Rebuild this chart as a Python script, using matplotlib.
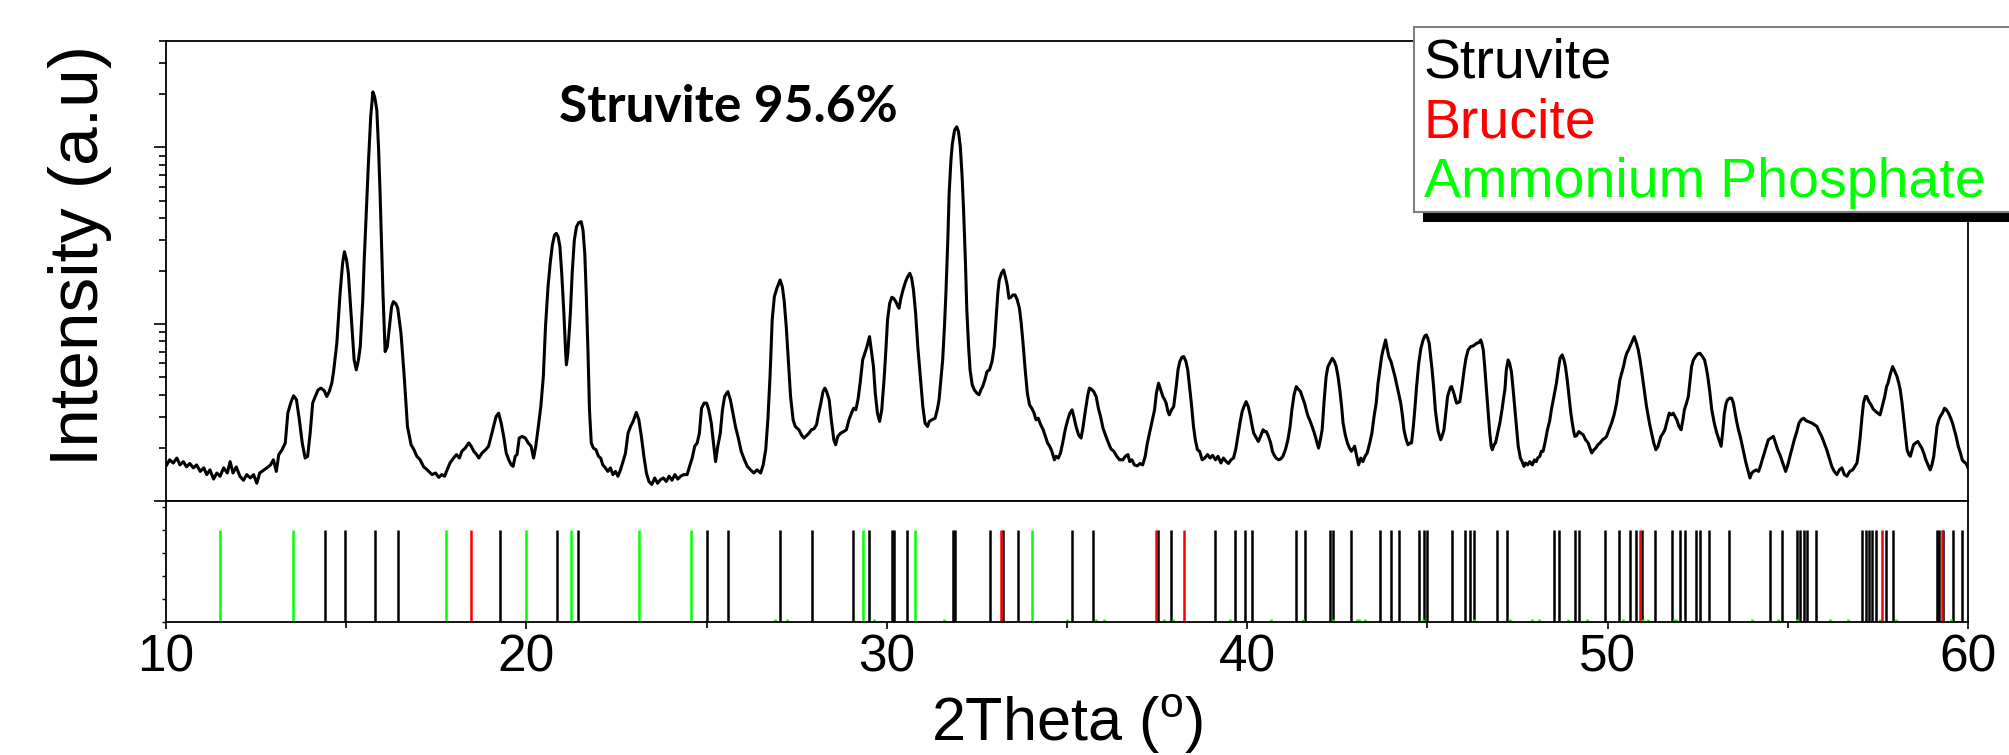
import numpy as np
import matplotlib
matplotlib.use("Agg")
import matplotlib.pyplot as plt
from matplotlib.patches import Rectangle
from matplotlib.ticker import MultipleLocator, NullFormatter

plt.rcParams['font.family'] = ['Liberation Sans', 'DejaVu Sans']

# XRD pattern (2theta in degrees, intensity in counts)
two_theta = [
    10.02, 10.10, 10.20, 10.30, 10.39, 10.48, 10.57, 10.66, 10.76, 10.85, 10.95, 11.05, 11.13, 11.22, 11.32, 11.41,
    11.50, 11.60, 11.70, 11.78, 11.86, 11.95, 12.05, 12.15, 12.24, 12.34, 12.43, 12.52, 12.60, 12.70, 12.80, 12.90,
    12.98, 13.06, 13.13, 13.22, 13.31, 13.38, 13.46, 13.54, 13.62, 13.70, 13.78, 13.86, 13.93, 14.00, 14.07, 14.14,
    14.22, 14.30, 14.39, 14.46, 14.53, 14.60, 14.65, 14.74, 14.83, 14.90, 14.95, 15.01, 15.06, 15.16, 15.22, 15.28,
    15.34, 15.39, 15.46, 15.50, 15.56, 15.62, 15.68, 15.74, 15.79, 15.85, 15.90, 15.94, 15.98, 16.02, 16.08, 16.14,
    16.20, 16.26, 16.31, 16.38, 16.43, 16.52, 16.61, 16.70, 16.80, 16.88, 16.96, 17.05, 17.15, 17.25, 17.38, 17.48,
    17.57, 17.65, 17.73, 17.80, 17.88, 17.98, 18.06, 18.14, 18.21, 18.30, 18.40, 18.47, 18.54, 18.62, 18.68, 18.77,
    18.87, 18.95, 19.02, 19.09, 19.16, 19.23, 19.30, 19.37, 19.44, 19.51, 19.58, 19.63, 19.69, 19.74, 19.80, 19.88,
    19.97, 20.05, 20.13, 20.20, 20.26, 20.32, 20.40, 20.47, 20.53, 20.60, 20.66, 20.72, 20.78, 20.83, 20.88, 20.93,
    20.98, 21.04, 21.09, 21.11, 21.15, 21.22, 21.27, 21.33, 21.39, 21.45, 21.52, 21.57, 21.62, 21.66, 21.71, 21.75,
    21.80, 21.86, 21.93, 22.00, 22.06, 22.12, 22.19, 22.26, 22.33, 22.40, 22.47, 22.54, 22.61, 22.68, 22.75, 22.82,
    22.89, 22.96, 23.05, 23.12, 23.19, 23.26, 23.33, 23.40, 23.48, 23.56, 23.64, 23.72, 23.80, 23.88, 23.96, 24.04,
    24.12, 24.20, 24.28, 24.36, 24.46, 24.54, 24.60, 24.67, 24.74, 24.80, 24.86, 24.93, 25.00, 25.06, 25.13, 25.19,
    25.25, 25.31, 25.38, 25.44, 25.50, 25.59, 25.66, 25.73, 25.80, 25.88, 25.96, 26.05, 26.13, 26.22, 26.31, 26.40,
    26.50, 26.57, 26.64, 26.70, 26.76, 26.82, 26.88, 26.95, 27.04, 27.10, 27.15, 27.21, 27.28, 27.33, 27.40, 27.46,
    27.56, 27.63, 27.70, 27.77, 27.84, 27.91, 27.98, 28.05, 28.11, 28.17, 28.23, 28.28, 28.33, 28.40, 28.46, 28.53,
    28.58, 28.64, 28.72, 28.80, 28.88, 28.95, 29.02, 29.08, 29.14, 29.20, 29.26, 29.33, 29.39, 29.45, 29.52, 29.57,
    29.63, 29.68, 29.74, 29.80, 29.86, 29.93, 29.98, 30.02, 30.08, 30.14, 30.19, 30.25, 30.31, 30.34, 30.39, 30.45,
    30.52, 30.58, 30.64, 30.69, 30.74, 30.80, 30.86, 30.93, 31.00, 31.06, 31.13, 31.18, 31.25, 31.34, 31.40, 31.45,
    31.50, 31.55, 31.60, 31.64, 31.69, 31.73, 31.78, 31.82, 31.88, 31.94, 31.99, 32.04, 32.09, 32.13, 32.18, 32.22,
    32.27, 32.31, 32.37, 32.43, 32.50, 32.56, 32.61, 32.66, 32.72, 32.78, 32.85, 32.92, 32.98, 33.03, 33.08, 33.12,
    33.18, 33.24, 33.29, 33.34, 33.39, 33.44, 33.50, 33.56, 33.62, 33.68, 33.73, 33.78, 33.84, 33.90, 33.96, 34.02,
    34.08, 34.14, 34.20, 34.27, 34.34, 34.40, 34.46, 34.52, 34.58, 34.65, 34.70, 34.76, 34.82, 34.88, 34.95, 35.02,
    35.08, 35.14, 35.20, 35.25, 35.32, 35.39, 35.44, 35.50, 35.57, 35.62, 35.67, 35.74, 35.81, 35.87, 35.93, 36.00,
    36.08, 36.15, 36.22, 36.30, 36.38, 36.46, 36.55, 36.62, 36.69, 36.74, 36.80, 36.87, 36.95, 37.03, 37.10, 37.17,
    37.23, 37.29, 37.36, 37.43, 37.48, 37.54, 37.60, 37.66, 37.71, 37.75, 37.80, 37.84, 37.90, 37.96, 38.03, 38.08,
    38.13, 38.19, 38.24, 38.30, 38.35, 38.40, 38.45, 38.51, 38.56, 38.62, 38.68, 38.75, 38.82, 38.90, 38.97, 39.04,
    39.12, 39.19, 39.27, 39.34, 39.42, 39.48, 39.55, 39.62, 39.68, 39.74, 39.80, 39.86, 39.91, 39.97, 40.03, 40.09,
    40.14, 40.18, 40.24, 40.31, 40.37, 40.44, 40.49, 40.53, 40.59, 40.65, 40.70, 40.74, 40.80, 40.87, 40.93, 40.99,
    41.06, 41.13, 41.19, 41.24, 41.30, 41.36, 41.42, 41.48, 41.54, 41.59, 41.65, 41.69, 41.75, 41.80, 41.85, 41.89,
    41.94, 41.98, 42.03, 42.08, 42.13, 42.19, 42.24, 42.29, 42.36, 42.42, 42.47, 42.52, 42.57, 42.62, 42.66, 42.72,
    42.78, 42.84, 42.89, 42.95, 42.98, 43.04, 43.09, 43.15, 43.21, 43.27, 43.33, 43.40, 43.46, 43.52, 43.58, 43.63,
    43.68, 43.73, 43.77, 43.84, 43.89, 43.93, 43.99, 44.05, 44.10, 44.14, 44.20, 44.26, 44.31, 44.35, 44.40, 44.46,
    44.52, 44.56, 44.61, 44.65, 44.70, 44.76, 44.82, 44.88, 44.93, 44.97, 45.01, 45.05, 45.09, 45.13, 45.18, 45.22,
    45.26, 45.30, 45.34, 45.37, 45.42, 45.46, 45.51, 45.56, 45.60, 45.64, 45.67, 45.72, 45.77, 45.81, 45.86, 45.90,
    45.96, 46.02, 46.07, 46.13, 46.20, 46.26, 46.31, 46.37, 46.43, 46.48, 46.51, 46.55, 46.59, 46.64, 46.68, 46.73,
    46.77, 46.80, 46.85, 46.89, 46.95, 47.01, 47.07, 47.12, 47.15, 47.19, 47.24, 47.28, 47.33, 47.38, 47.43, 47.48,
    47.52, 47.58, 47.63, 47.68, 47.72, 47.78, 47.84, 47.91, 47.97, 48.02, 48.06, 48.12, 48.16, 48.21, 48.27, 48.33,
    48.39, 48.44, 48.51, 48.58, 48.63, 48.68, 48.74, 48.79, 48.83, 48.88, 48.93, 48.98, 49.02, 49.06, 49.09, 49.14,
    49.20, 49.26, 49.32, 49.39, 49.46, 49.51, 49.56, 49.62, 49.67, 49.73, 49.79, 49.86, 49.93, 49.97, 50.04, 50.11,
    50.18, 50.25, 50.30, 50.34, 50.39, 50.44, 50.49, 50.53, 50.58, 50.62, 50.68, 50.74, 50.80, 50.85, 50.90, 50.94,
    50.99, 51.04, 51.08, 51.13, 51.17, 51.22, 51.28, 51.34, 51.40, 51.48, 51.54, 51.59, 51.65, 51.71, 51.77, 51.82,
    51.87, 51.92, 51.98, 52.04, 52.09, 52.13, 52.19, 52.24, 52.29, 52.33, 52.38, 52.44, 52.50, 52.56, 52.62, 52.69,
    52.74, 52.78, 52.84, 52.89, 52.96, 53.03, 53.09, 53.15, 53.19, 53.24, 53.29, 53.33, 53.39, 53.44, 53.49, 53.54,
    53.58, 53.63, 53.68, 53.72, 53.78, 53.83, 53.89, 53.95, 54.00, 54.05, 54.12, 54.19, 54.25, 54.32, 54.39, 54.46,
    54.53, 54.60, 54.66, 54.72, 54.78, 54.83, 54.89, 54.94, 55.00, 55.06, 55.12, 55.18, 55.25, 55.31, 55.37, 55.44,
    55.50, 55.56, 55.61, 55.67, 55.74, 55.81, 55.87, 55.94, 56.01, 56.08, 56.15, 56.22, 56.29, 56.36, 56.43, 56.50,
    56.57, 56.64, 56.72, 56.80, 56.86, 56.92, 56.97, 57.01, 57.06, 57.10, 57.15, 57.19, 57.25, 57.31, 57.37, 57.44,
    57.50, 57.56, 57.62, 57.69, 57.74, 57.78, 57.85, 57.91, 57.97, 58.03, 58.08, 58.12, 58.17, 58.21, 58.26, 58.31,
    58.36, 58.40, 58.45, 58.49, 58.55, 58.61, 58.66, 58.72, 58.77, 58.83, 58.89, 58.95, 59.00, 59.05, 59.10, 59.14,
    59.19, 59.23, 59.29, 59.35, 59.40, 59.46, 59.52, 59.57, 59.62, 59.67, 59.73, 59.79, 59.84, 59.88, 59.93, 59.97,
    60.00,
]
intensity = [
    160, 171, 164, 175, 160, 167, 156, 163, 154, 160, 147, 154, 141, 150, 133, 144,
    138, 154, 144, 167, 144, 156, 138, 131, 141, 135, 141, 126, 144, 149, 154, 160,
    171, 147, 183, 195, 213, 314, 358, 394, 374, 288, 213, 175, 179, 242, 358, 390,
    425, 435, 421, 390, 416, 464, 540, 781, 1496, 2210, 2572, 2308, 1941, 970, 628, 552,
    628, 747, 1372, 2308, 4423, 8480, 14890, 20620, 19320, 16240, 9654, 5494, 2868, 1496, 700, 747,
    970, 1258, 1342, 1302, 1231, 889, 506, 264, 208, 195, 179, 171, 156, 150, 141, 144,
    136, 141, 138, 150, 164, 175, 183, 175, 191, 199, 213, 204, 191, 183, 175, 187,
    195, 204, 232, 264, 301, 314, 276, 232, 187, 171, 160, 157, 179, 183, 227, 232,
    227, 213, 204, 175, 204, 253, 342, 506, 970, 1631, 2210, 2805, 3195, 3265, 3127, 2746,
    1941, 1153, 686, 589, 686, 1153, 1941, 2994, 3561, 3752, 3800, 3410, 2517, 1496, 686, 328,
    213, 199, 195, 179, 175, 160, 154, 147, 154, 141, 147, 138, 150, 167, 187, 242,
    264, 282, 317, 288, 232, 179, 144, 129, 124, 135, 126, 132, 135, 129, 138, 131,
    141, 133, 138, 141, 141, 160, 175, 204, 213, 242, 335, 358, 358, 328, 276, 213,
    167, 204, 242, 328, 390, 416, 374, 314, 264, 227, 191, 171, 157, 150, 144, 150,
    144, 160, 195, 288, 506, 1058, 1432, 1597, 1780, 1631, 1372, 970, 576, 390, 288, 264,
    253, 237, 227, 234, 242, 253, 256, 270, 314, 358, 416, 435, 416, 374, 288, 222,
    208, 232, 242, 247, 253, 288, 314, 335, 328, 374, 464, 628, 686, 747, 851, 716,
    576, 407, 314, 282, 328, 506, 747, 1058, 1313, 1420, 1402, 1342, 1258, 1231, 1402, 1562,
    1741, 1858, 1941, 1818, 1562, 1153, 747, 506, 342, 276, 264, 282, 288, 294, 328, 374,
    484, 628, 970, 1496, 2868, 5494, 8480, 10530, 12520, 13080, 12260, 10080, 6827, 4423, 2308, 1204,
    747, 552, 454, 425, 407, 399, 425, 444, 484, 540, 552, 615, 747, 1058, 1496, 1780,
    1941, 2027, 1858, 1667, 1402, 1420, 1464, 1464, 1372, 1231, 1013, 781, 552, 407, 350, 335,
    317, 288, 294, 270, 253, 232, 213, 204, 191, 171, 179, 175, 187, 213, 253, 288,
    314, 328, 294, 264, 237, 227, 258, 314, 390, 435, 430, 416, 390, 335, 301, 258,
    232, 213, 197, 191, 179, 171, 171, 179, 183, 167, 171, 160, 158, 163, 160, 179,
    213, 242, 282, 328, 407, 464, 425, 390, 374, 358, 321, 307, 328, 342, 444, 552,
    615, 651, 656, 615, 552, 444, 358, 264, 222, 195, 191, 171, 175, 183, 175, 181,
    171, 179, 164, 175, 167, 163, 171, 175, 195, 232, 276, 321, 342, 365, 342, 301,
    264, 242, 230, 217, 232, 253, 247, 247, 232, 213, 191, 183, 175, 171, 173, 179,
    195, 222, 264, 328, 399, 444, 429, 416, 382, 358, 321, 301, 282, 264, 247, 232,
    213, 199, 222, 253, 358, 506, 576, 602, 642, 615, 576, 506, 425, 342, 276, 237,
    213, 199, 191, 199, 204, 179, 160, 175, 167, 179, 187, 213, 242, 301, 358, 464,
    552, 656, 716, 815, 716, 656, 615, 552, 506, 464, 407, 358, 301, 253, 227, 208,
    213, 213, 264, 328, 444, 602, 731, 815, 859, 870, 833, 781, 656, 552, 425, 328,
    282, 247, 232, 222, 237, 253, 314, 390, 416, 440, 444, 416, 382, 358, 361, 365,
    444, 552, 642, 716, 747, 752, 764, 781, 787, 815, 781, 716, 576, 425, 328, 242,
    204, 195, 208, 213, 242, 276, 328, 390, 425, 552, 628, 602, 540, 425, 328, 253,
    204, 175, 167, 157, 164, 160, 167, 160, 171, 167, 175, 179, 191, 191, 217, 253,
    282, 328, 390, 464, 552, 642, 671, 628, 576, 484, 390, 314, 276, 247, 232, 234,
    247, 242, 237, 222, 213, 199, 187, 195, 199, 208, 213, 222, 227, 232, 253, 276,
    307, 358, 425, 484, 528, 576, 642, 685, 716, 747, 798, 851, 781, 716, 628, 552,
    464, 390, 342, 301, 270, 242, 213, 195, 204, 232, 242, 253, 282, 314, 307, 314,
    301, 288, 264, 253, 288, 328, 358, 390, 484, 576, 628, 656, 680, 685, 662, 628,
    564, 506, 407, 328, 276, 242, 222, 204, 242, 314, 358, 374, 382, 382, 358, 314,
    282, 253, 232, 213, 187, 167, 150, 135, 144, 147, 150, 147, 160, 179, 199, 222,
    227, 232, 213, 195, 183, 171, 157, 147, 160, 179, 199, 222, 247, 276, 288, 294,
    285, 282, 279, 276, 270, 264, 247, 232, 213, 195, 175, 157, 147, 141, 150, 154,
    141, 138, 147, 150, 157, 164, 195, 232, 301, 358, 390, 390, 365, 350, 331, 321,
    314, 307, 342, 390, 444, 464, 528, 576, 540, 506, 464, 425, 358, 301, 242, 195,
    183, 179, 195, 208, 213, 217, 208, 199, 187, 171, 160, 150, 160, 179, 222, 264,
    288, 301, 314, 335, 328, 314, 294, 276, 253, 232, 204, 187, 171, 167, 164, 160,
    154,
]

# reference stick patterns
struvite_pos = [14.41, 14.97, 15.79, 16.44, 19.27, 20.84, 21.43, 25.00, 25.59, 27.05, 27.92, 29.06, 29.50,
                30.15, 30.21, 30.57, 31.85, 31.88, 32.85, 33.23, 33.63, 35.15, 35.72, 37.53, 37.89, 39.11,
                39.67, 39.95, 40.12, 41.36, 41.60, 42.29, 42.39, 42.89, 43.68, 43.98, 44.21, 44.76, 44.91,
                44.99, 45.68, 46.03, 46.19, 46.28, 46.93, 47.22, 48.50, 48.66, 49.10, 49.20, 49.92, 50.33,
                50.62, 50.79, 50.95, 51.32, 51.79, 52.01, 52.14, 52.45, 52.55, 52.80, 53.36, 54.50, 54.85,
                55.25, 55.34, 55.44, 55.53, 55.78, 57.07, 57.17, 57.25, 57.35, 57.45, 57.72, 57.92, 59.13,
                59.20, 59.32, 59.58, 59.83]
brucite_pos = [18.47, 33.18, 37.47, 38.25, 50.90, 57.61, 59.29]
ammonium_pos = [11.50, 13.51, 17.78, 20.00, 21.23, 23.13, 24.58, 29.33, 30.77, 34.02]
ammonium_weak_pos = [26.89, 27.23, 29.65, 31.60, 35.01, 35.81, 36.02, 37.70, 37.93, 39.52, 40.66, 41.54,
                     42.39, 43.04, 43.11, 43.26, 44.89, 46.30, 47.28, 47.91, 48.09, 48.91, 49.44, 50.42,
                     50.92, 50.97, 51.11, 51.85, 51.90, 54.02, 54.74, 55.26, 56.18, 56.66, 57.56, 58.00, 59.54]
stick_height = 100
weak_height = 3

legend_labels = ['Struvite', 'Brucite', 'Ammonium Phosphate']
legend_colors = ['black', '#ff0000', '#00ff00']

W, H = 2009, 755
fig = plt.figure(figsize=(W / 100, H / 100), dpi=100)

def fx(px):
    return px / W

def fy(py):
    return (H - py) / H

left, right = 166, 1968
ax1 = fig.add_axes([fx(left), fy(501), fx(right - left), (501 - 41) / H])
ax2 = fig.add_axes([fx(left), fy(622), fx(right - left), (622 - 501) / H])

# top panel: pattern
ax1.plot(two_theta, intensity, color='black', lw=2.2)
ax1.set_yscale('log')
ax1.set_xlim(10, 60)
ax1.set_ylim(100, 40000)
ax1.tick_params(axis='x', bottom=False, labelbottom=False)
ax1.tick_params(axis='y', which='major', direction='out', length=8.5, width=1.2, labelleft=False)
ax1.tick_params(axis='y', which='minor', direction='out', length=5, width=1.2, labelleft=False)
ax1.yaxis.set_minor_formatter(NullFormatter())
for s in ax1.spines.values():
    s.set_linewidth(1.3)

ax1.text(20.9, 13900, 'Struvite 95.6%', fontsize=37, fontweight='bold',
         family=['Lato', 'DejaVu Sans'], ha='left', va='baseline')

# bottom panel: reference sticks
ax2.vlines(struvite_pos, 0, stick_height, colors='black', lw=1.8)
ax2.vlines(ammonium_weak_pos, 0, weak_height, colors='#00ff00', lw=1.8)
ax2.vlines(ammonium_pos, 0, stick_height, colors='#00ff00', lw=1.8)
ax2.vlines(brucite_pos, 0, stick_height, colors='#ff0000', lw=1.8)
ax2.set_xlim(10, 60)
ax2.set_ylim(0, 131)
ax2.xaxis.set_major_locator(MultipleLocator(10))
ax2.xaxis.set_minor_locator(MultipleLocator(5))
ax2.yaxis.set_major_locator(MultipleLocator(25))
ax2.tick_params(axis='x', which='major', direction='out', length=5, width=1.2, labelsize=37, pad=3)
ax2.tick_params(axis='x', which='minor', direction='out', length=4, width=1.2)
ax2.tick_params(axis='y', direction='out', length=3, width=1.0, labelleft=False)
for s in ax2.spines.values():
    s.set_linewidth(1.3)

fig.text(fx(80), fy(256), 'Intensity (a.u)', rotation=90, ha='center', va='center', fontsize=50)
fig.text(fx(1067), fy(741), r'2Theta ($^\mathregular{o}$)', ha='center', va='baseline', fontsize=44)

# legend box with drop shadow, running off the right edge
shadow = Rectangle((fx(1423), fy(222)), fx(700), (222 - 39) / H, transform=fig.transFigure,
                   facecolor='black', edgecolor='none', zorder=5)
box = Rectangle((fx(1414), fy(212)), fx(700), (212 - 27) / H, transform=fig.transFigure,
                facecolor='white', edgecolor='#7f7f7f', lw=1.5, zorder=6)
fig.add_artist(shadow)
fig.add_artist(box)
for i, (lab, col) in enumerate(zip(legend_labels, legend_colors)):
    t = fig.text(fx(1424), fy(77 + 60 * i), lab, color=col, fontsize=40, ha='left', va='baseline')
    t.set_zorder(7)

fig.savefig('out.png', dpi=100)
